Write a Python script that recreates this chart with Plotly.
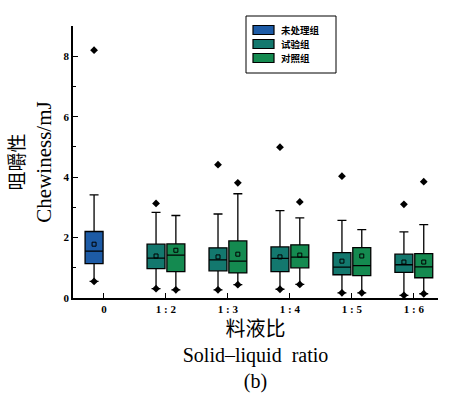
import plotly.graph_objects as go

categories = ["0", "1 : 2", "1 : 3", "1 : 4", "1 : 5", "1 : 6"]

# Untreated group (only at ratio 0)
untreated_q1 = [1.14]
untreated_median = [1.55]
untreated_q3 = [2.20]
untreated_low = [0.55]
untreated_high = [3.41]
untreated_mean = [1.78]
untreated_outlier = [8.20]

# Trial group (ratios 1:2 .. 1:6)
trial_q1 = [0.97, 0.90, 0.87, 0.77, 0.85]
trial_median = [1.32, 1.26, 1.31, 1.02, 1.10]
trial_q3 = [1.78, 1.66, 1.69, 1.50, 1.45]
trial_low = [0.31, 0.27, 0.29, 0.17, 0.09]
trial_high = [2.83, 2.78, 2.89, 2.57, 2.19]
trial_mean = [1.39, 1.36, 1.36, 1.22, 1.19]
trial_outlier = [3.13, 4.41, 4.99, 4.03, 3.10]

# Control group (ratios 1:2 .. 1:6)
control_q1 = [0.87, 0.83, 1.00, 0.74, 0.67]
control_median = [1.42, 1.22, 1.35, 1.07, 1.03]
control_q3 = [1.79, 1.89, 1.76, 1.67, 1.47]
control_low = [0.27, 0.44, 0.45, 0.17, 0.14]
control_high = [2.73, 3.45, 2.65, 2.26, 2.43]
control_mean = [1.58, 1.45, 1.42, 1.39, 1.19]
control_outlier = [None, 3.81, 3.18, None, 3.85]

names = ["未处理组", "试验组", "对照组"]
colors = ["#1d5ba6", "#13786e", "#148a50"]

# layout geometry (pixels)
W, H = 462, 393
ML, MR, MT, MB = 73, 24, 26, 95
PW, PH = W - ML - MR, H - MT - MB


def px_x(p):
    return (p - ML) / PW


def px_y(p):
    return (H - MB - p) / PH


off = 0.16
bw = 0.29
x_un = [0 - off]
x_tr = [i - off for i in range(1, 6)]
x_co = [i + off for i in range(1, 6)]

fig = go.Figure()

groups = [
    (names[0], colors[0], x_un, untreated_q1, untreated_median, untreated_q3, untreated_low, untreated_high, untreated_mean, untreated_outlier),
    (names[1], colors[1], x_tr, trial_q1, trial_median, trial_q3, trial_low, trial_high, trial_mean, trial_outlier),
    (names[2], colors[2], x_co, control_q1, control_median, control_q3, control_low, control_high, control_mean, control_outlier),
]

for name, col, xs, q1, med, q3, lo, hi, mean, outl in groups:
    fig.add_trace(go.Box(
        name=name, x=xs, q1=q1, median=med, q3=q3,
        lowerfence=lo, upperfence=hi,
        width=bw, whiskerwidth=0.5,
        fillcolor=col, line=dict(color="black", width=1.3),
        boxpoints=False, showlegend=False,
    ))

for name, col, xs, q1, med, q3, lo, hi, mean, outl in groups:
    fig.add_trace(go.Scatter(
        x=xs, y=mean, mode="markers", showlegend=False, hoverinfo="skip",
        marker=dict(symbol="square-open", size=4, color="black", line=dict(width=1)),
    ))
    fig.add_trace(go.Scatter(
        x=xs, y=lo, mode="markers", showlegend=False, hoverinfo="skip",
        marker=dict(symbol="diamond", size=6, color="black"),
    ))
    fig.add_trace(go.Scatter(
        x=xs, y=outl, mode="markers", showlegend=False, hoverinfo="skip",
        marker=dict(symbol="diamond", size=6, color="black"),
    ))

# hand-drawn compact legend, like the original
shapes = [dict(type="rect", xref="paper", yref="paper",
               x0=px_x(246), x1=px_x(336), y0=px_y(73), y1=px_y(16),
               line=dict(color="black", width=1), fillcolor="white", layer="above")]
annotations = []
item_y = [30, 44, 58]
for name, col, yc in zip(names, colors, item_y):
    shapes.append(dict(type="rect", xref="paper", yref="paper",
                       x0=px_x(253), x1=px_x(274), y0=px_y(yc + 4.5), y1=px_y(yc - 4.5),
                       line=dict(color="black", width=1.2), fillcolor=col, layer="above"))
    annotations.append(dict(text=name, xref="paper", yref="paper",
                            x=px_x(279), y=px_y(yc), xanchor="left", yanchor="middle",
                            showarrow=False,
                            font=dict(family="Noto Sans CJK SC", size=9.5, color="black", weight="bold")))

tick_font = dict(family="Liberation Serif", size=11, color="black", weight="bold")

fig.update_layout(
    width=W, height=H,
    margin=dict(l=ML, r=MR, t=MT, b=MB, autoexpand=False),
    paper_bgcolor="white", plot_bgcolor="white",
    boxmode="overlay",
    showlegend=False,
    shapes=shapes,
    annotations=annotations,
    xaxis=dict(
        range=[-0.5, 5.39], tickmode="array", tickvals=list(range(6)), ticktext=categories,
        showline=True, linecolor="black", linewidth=1.5, ticks="inside", ticklen=5,
        tickcolor="black", tickwidth=1.2, showgrid=False, zeroline=False,
        tickfont=tick_font, automargin=False,
        title=dict(text="料液比<br>Solid–liquid  ratio<br>(b)",
                   font=dict(family="Liberation Serif, Noto Sans CJK SC", size=20, color="black"),
                   standoff=8),
    ),
    yaxis=dict(
        range=[0, 9], tickvals=[0, 2, 4, 6, 8],
        showline=True, linecolor="black", linewidth=1.5, ticks="inside", ticklen=5,
        tickcolor="black", tickwidth=1.2, showgrid=False, zeroline=False,
        tickfont=tick_font, automargin=False,
        minor=dict(tickvals=[1, 3, 5, 7], ticks="inside", ticklen=3, tickcolor="black", tickwidth=1),
        title=dict(text="<span style='font-size:19px'>咀嚼性</span><br>Chewiness/mJ",
                   font=dict(family="Liberation Serif, Noto Sans CJK SC", size=21, color="black"),
                   standoff=6),
    ),
)

fig.write_html("out.html")
